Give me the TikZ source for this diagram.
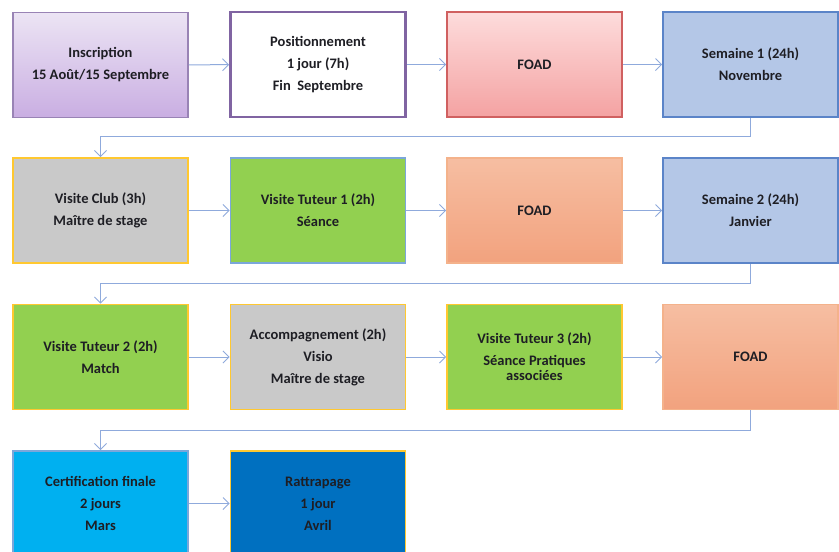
\documentclass[tikz,border=0pt]{standalone}
\usepackage{fontspec}
\setmainfont{Carlito}
\usepackage{tikz}
\usetikzlibrary{arrows.meta,positioning}
\usepackage{xcolor}
\definecolor{LinkBlue}{HTML}{8FAADC}
\definecolor{Purple}{HTML}{8064A2}
\definecolor{LavTop}{HTML}{ECE4F4}
\definecolor{LavBot}{HTML}{C9AEE2}
\definecolor{PinkTop}{HTML}{FDDCDC}
\definecolor{PinkBot}{HTML}{F4A2A2}
\definecolor{RedLine}{HTML}{D06060}
\definecolor{SoftBlue}{HTML}{B4C7E7}
\definecolor{MidBlue}{HTML}{5B84C8}
\definecolor{Grey}{HTML}{C9C9C9}
\definecolor{Gold}{HTML}{FFC830}
\definecolor{Leaf}{HTML}{92D050}
\definecolor{SkyLine}{HTML}{7BA7DA}
\definecolor{OrTop}{HTML}{F6BEA2}
\definecolor{OrBot}{HTML}{F2A27E}
\definecolor{OrLine}{HTML}{F0915A}
\definecolor{Cyan}{HTML}{00B0F0}
\definecolor{DeepBlue}{HTML}{0070C0}
\definecolor{Ink}{HTML}{1E1E24}

\begin{document}
\begin{tikzpicture}[x=1pt,y=-1pt,
  box/.style={minimum width=175pt,minimum height=105pt,line width=1.6pt,
    align=center,text=Ink,font=\fontsize{14.5}{15}\selectfont\bfseries},
  link/.style={draw=LinkBlue,line width=1pt,-{Straight Barb[length=6pt,width=12pt]}}]
  \fill[white] (0,0) rectangle (839,552);
  \useasboundingbox (0,0) rectangle (839,552);
  \begin{scope}
  \clip (0,0) rectangle (839,552);
  % row 1
  \node[box,draw=Purple!80,top color=LavTop,bottom color=LavBot] (insc) at (100.5,65)
    {Inscription\\[7pt]15 Août/15 Septembre};
  \node[box,draw=Purple,line width=2.6pt,fill=white] (posi) at (318,64.5)
    {Positionnement\\[7pt]1 jour (7h)\\[7pt]Fin~ Septembre};
  \node[box,draw=RedLine,top color=PinkTop,bottom color=PinkBot] (foad1) at (534.5,64.5) {FOAD};
  \node[box,draw=MidBlue,fill=SoftBlue] (sem1) at (750.5,64.5)
    {Semaine 1 (24h)\\[7pt]Novembre};
  % row 2
  \node[box,draw=Gold,fill=Grey] (club) at (100.5,210.5)
    {Visite Club (3h)\\[7pt]Maître de stage};
  \node[box,draw=SkyLine,fill=Leaf] (tut1) at (318,210.5)
    {Visite Tuteur 1 (2h)\\[7pt]Séance};
  \node[box,draw=OrLine!70,top color=OrTop,bottom color=OrBot] (foad2) at (534.5,210.5) {FOAD};
  \node[box,draw=MidBlue,fill=SoftBlue] (sem2) at (750.5,210.5)
    {Semaine 2 (24h)\\[7pt]Janvier};
  % row 3
  \node[box,draw=Gold,fill=Leaf] (tut2) at (100.5,357)
    {Visite Tuteur 2 (2h)\\[7pt]Match};
  \node[box,draw=Gold,fill=Grey] (accomp) at (318,357)
    {Accompagnement (2h)\\[7pt]Visio\\[7pt]Maître de stage};
  \node[box,draw=Gold,fill=Leaf] (tut3) at (534.5,357)
    {Visite Tuteur 3 (2h)\\[7pt]Séance Pratiques\\associées};
  \node[box,draw=OrLine!70,top color=OrTop,bottom color=OrBot] (foad3) at (750.5,357) {FOAD};
  % row 4
  \node[box,draw=SkyLine,fill=Cyan] (certif) at (100.5,503.5)
    {Certification finale\\[7pt]2 jours\\[7pt]Mars};
  \node[box,draw=Gold,fill=DeepBlue] (rattr) at (318,503.5)
    {Rattrapage\\[7pt]1 jour\\[7pt]Avril};
  % links
  \draw[link] (insc) -- (posi);
  \draw[link] (posi) -- (foad1);
  \draw[link] (foad1) -- (sem1);
  \draw[link] (sem1.south) -- ++(0,19) -| (club.north);
  \draw[link] (club) -- (tut1);
  \draw[link] (tut1) -- (foad2);
  \draw[link] (foad2) -- (sem2);
  \draw[link] (sem2.south) -- ++(0,19.5) -| (tut2.north);
  \draw[link] (tut2) -- (accomp);
  \draw[link] (accomp) -- (tut3);
  \draw[link] (tut3) -- (foad3);
  \draw[link] (foad3.south) -- ++(0,20) -| (certif.north);
  \draw[link] (certif) -- (rattr);
  \end{scope}
\end{tikzpicture}
\end{document}
